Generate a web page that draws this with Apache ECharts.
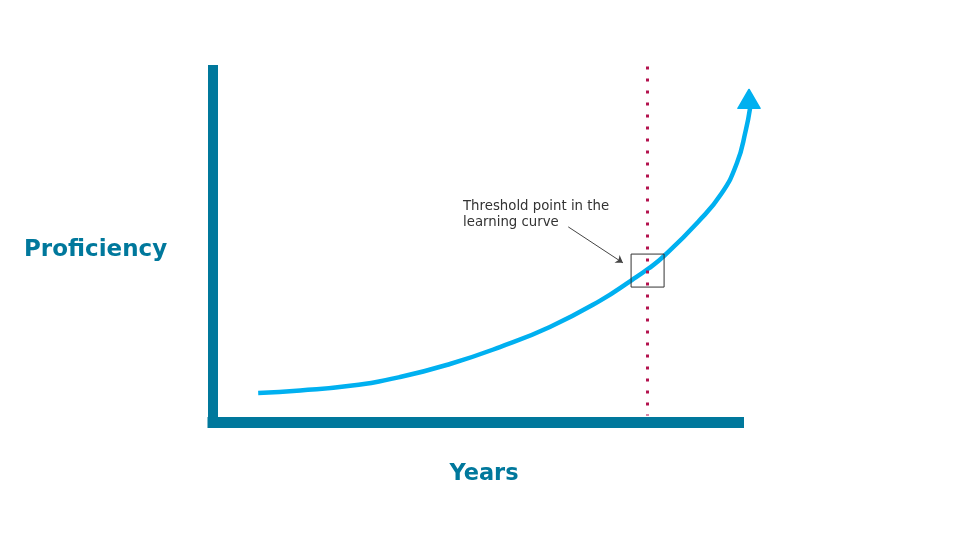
<!DOCTYPE html>
<html>
<head>
<meta charset="utf-8">
<script src="https://cdn.jsdelivr.net/npm/echarts@6/dist/echarts.min.js"></script>
<style>html,body{margin:0;padding:0;background:#fff}#c{width:960px;height:540px}</style>
</head>
<body>
<div id="c"></div>
<script>
// Learning curve (years -> proficiency)
const curveYears = [0.86, 1.66, 2.61, 3.56, 4.51, 5.46, 6.41, 7.36, 7.97, 8.28, 8.58, 9.23, 9.67, 9.97, 10.14, 10.22];
const curveProficiency = [0.84, 0.91, 1.04, 1.29, 1.66, 2.14, 2.71, 3.45, 4.04, 4.36, 4.72, 5.69, 6.48, 7.36, 8.30, 8.92];
const arrowHead = [10.2, 9.18];
const thresholdYear = 8.27;
const thresholdPoint = [8.27, 4.31];
const annotationFrom = [6.76, 5.55];
const annotationTo = [7.80, 4.53];
const annotationText = 'Threshold point in the\nlearning curve';
const xTitle = 'Years';
const yTitle = 'Proficiency';

const teal = '#00789C';
const hiddenAxis = {
  axisLine: { show: false }, axisTick: { show: false }, axisLabel: { show: false }, splitLine: { show: false }
};
const chart = echarts.init(document.getElementById('c'));
chart.setOption({
  animation: false,
  grid: [
    { left: 213, top: 70, right: 221.5, bottom: 117.5 },
    { left: 213, top: 52.375, right: 189.97, bottom: 117.5 }
  ],
  xAxis: [
    {
      gridIndex: 0, type: 'value', min: 0, max: 10,
      axisLine: { show: true, lineStyle: { color: teal, width: 11, cap: 'square' } },
      axisTick: { show: false }, axisLabel: { show: false }, splitLine: { show: false }
    },
    Object.assign({ gridIndex: 1, type: 'value', min: 0, max: 10.6 }, hiddenAxis)
  ],
  yAxis: [
    {
      gridIndex: 0, type: 'value', min: 0, max: 10,
      axisLine: { show: true, lineStyle: { color: teal, width: 10, cap: 'square' } },
      axisTick: { show: false }, axisLabel: { show: false }, splitLine: { show: false }
    },
    Object.assign({ gridIndex: 1, type: 'value', min: 0, max: 10.5 }, hiddenAxis)
  ],
  graphic: [
    { type: 'text', x: 24, y: 250, style: { text: yTitle, font: 'bold 23px "DejaVu Sans"', fill: teal, verticalAlign: 'middle' } },
    { type: 'text', x: 484, y: 474, style: { text: xTitle, font: 'bold 22.5px "DejaVu Sans"', fill: teal, align: 'center', verticalAlign: 'middle' } },
    { type: 'text', x: 463, y: 199, style: { text: annotationText, font: '13.3px "DejaVu Sans"', fill: '#333', lineHeight: 16 } }
  ],
  series: [
    {
      type: 'line', xAxisIndex: 1, yAxisIndex: 1, smooth: 0.5, symbol: 'none',
      data: curveYears.map((x, i) => [x, curveProficiency[i]]),
      lineStyle: { color: '#00B0F0', width: 4.5 },
      markLine: {
        silent: true, symbol: ['none', 'none'], label: { show: false },
        data: [
          [ { coord: [thresholdYear, 10.1], lineStyle: { color: '#B3124E', width: 3, type: [3, 9] } },
            { coord: [thresholdYear, 0.2] } ],
          [ { coord: annotationFrom, symbol: 'none', lineStyle: { color: '#444', width: 1, type: 'solid' } },
            { coord: annotationTo, symbol: 'arrow', symbolSize: 7 } ]
        ]
      }
    },
    {
      type: 'scatter', xAxisIndex: 1, yAxisIndex: 1, symbol: 'triangle', symbolSize: [22, 19],
      data: [arrowHead], itemStyle: { color: '#00B0F0', opacity: 1, borderColor: '#00B0F0', borderWidth: 1.5, borderJoin: 'round' }, silent: true
    },
    {
      type: 'scatter', xAxisIndex: 1, yAxisIndex: 1, symbol: 'rect', symbolSize: 33,
      data: [thresholdPoint], itemStyle: { color: 'rgba(0,0,0,0)', borderColor: '#333', borderWidth: 1, opacity: 1 }, silent: true, z: 5
    }
  ]
});
</script>
</body>
</html>
